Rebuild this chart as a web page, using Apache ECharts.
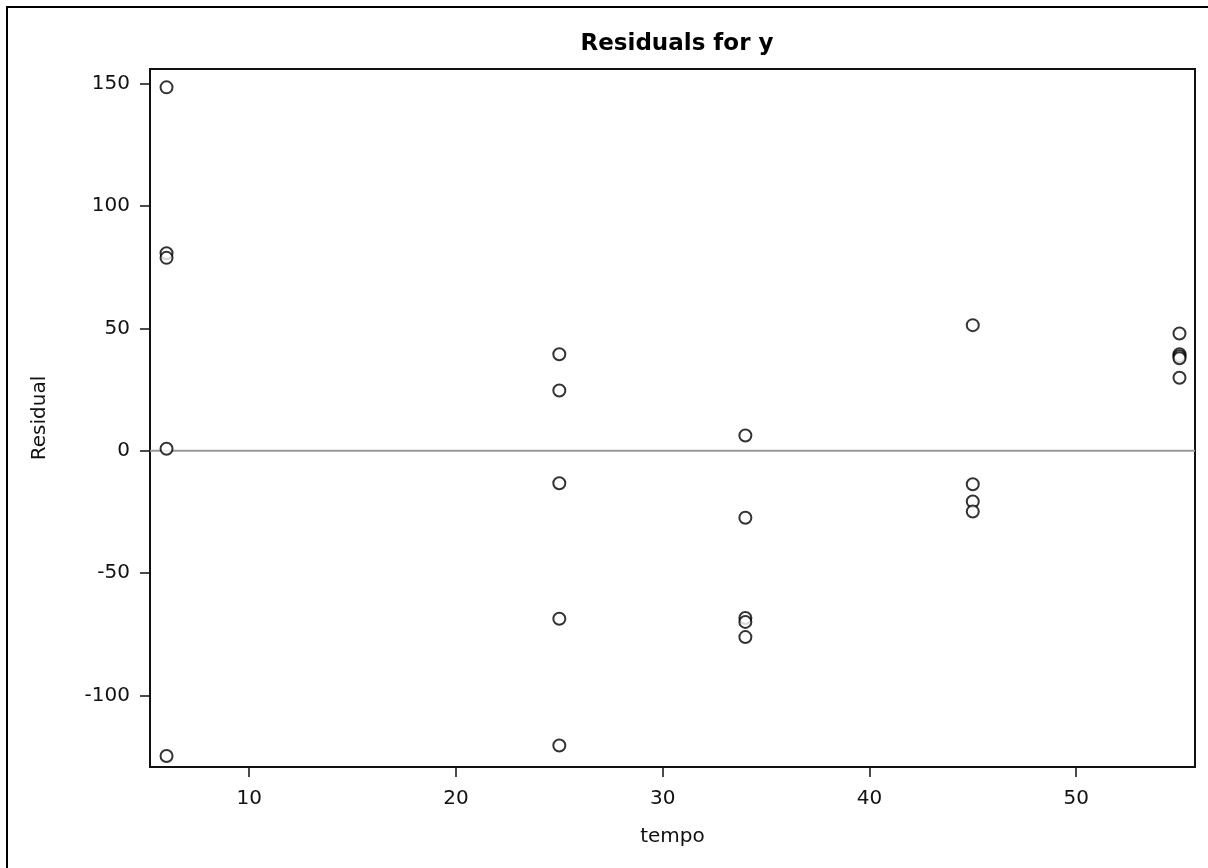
<!DOCTYPE html>
<html>
<head>
<meta charset="utf-8">
<script src="https://cdn.jsdelivr.net/npm/echarts@6/dist/echarts.min.js"></script>
<style>
html,body{margin:0;padding:0;background:#fff;}
#chart{width:1208px;height:868px;}
</style>
</head>
<body>
<div id="chart"></div>
<script>
// Data
var tempo    = [6, 6, 6, 6, 6,
                25, 25, 25, 25, 25,
                34, 34, 34, 34, 34,
                45, 45, 45, 45,
                55, 55, 55, 55, 55];
var residual = [148.5, 80.7, 78.8, 0.8, -124.8,
                39.4, 24.6, -13.3, -68.7, -120.5,
                6.2, -27.4, -68.4, -70.0, -76.2,
                51.3, -13.7, -20.8, -24.9,
                47.9, 39.4, 38.6, 37.8, 29.8];
var xTicks = [10, 20, 30, 40, 50];
var yTicks = [-100, -50, 0, 50, 100, 150];
var xRange = [5.2, 55.75];
var yRange = [-129.3, 156];
var refValue = 0;
var titleText = 'Residuals for y';
var xName = 'tempo';
var yName = 'Residual';

var points = tempo.map(function (t, i) { return [t, residual[i]]; });
var refLine = [[xRange[0], refValue], [xRange[1], refValue]];

var chart = echarts.init(document.getElementById('chart'), null, {renderer: 'canvas'});
var labelFont = {fontFamily: 'DejaVu Sans', fontSize: 20, color: '#111'};
chart.setOption({
  animation: false,
  backgroundColor: '#fff',
  title: {
    text: titleText,
    left: 672, top: 28, textAlign: 'center',
    textStyle: {fontFamily: 'DejaVu Sans', fontWeight: 'bold', fontSize: 23, color: '#000'}
  },
  graphic: [{
    type: 'rect', silent: true,
    shape: {x: 7, y: 7, width: 1400, height: 1000},
    style: {fill: null, stroke: '#000', lineWidth: 2}
  }],
  grid: {
    left: 150, right: 13, top: 69, bottom: 101,
    show: true, borderColor: '#111', borderWidth: 2
  },
  xAxis: {
    type: 'value', min: xRange[0], max: xRange[1],
    name: xName, nameLocation: 'middle', nameGap: 60,
    nameTextStyle: labelFont,
    splitLine: {show: false},
    axisLine: {show: false, onZero: false},
    axisTick: {show: true, length: 10, inside: false, customValues: xTicks, lineStyle: {color: '#111', width: 1.5}},
    axisLabel: {customValues: xTicks, margin: 22, fontFamily: 'DejaVu Sans', fontSize: 20, color: '#111'}
  },
  yAxis: {
    type: 'value', min: yRange[0], max: yRange[1],
    name: yName, nameLocation: 'middle', nameGap: 100, nameRotate: 90,
    nameTextStyle: labelFont,
    splitLine: {show: false},
    axisLine: {show: false, onZero: false},
    axisTick: {show: true, length: 10, inside: false, customValues: yTicks, lineStyle: {color: '#111', width: 1.5}},
    axisLabel: {customValues: yTicks, margin: 20, fontFamily: 'DejaVu Sans', fontSize: 20, color: '#111'}
  },
  series: [{
    type: 'line',
    data: refLine,
    symbol: 'none',
    silent: true,
    lineStyle: {color: '#999', width: 2},
    z: 2
  }, {
    type: 'scatter',
    data: points,
    symbol: 'emptyCircle',
    symbolSize: 12,
    itemStyle: {color: '#000', borderColor: '#000', borderWidth: 1.7},
    z: 3
  }]
});
</script>
</body>
</html>
